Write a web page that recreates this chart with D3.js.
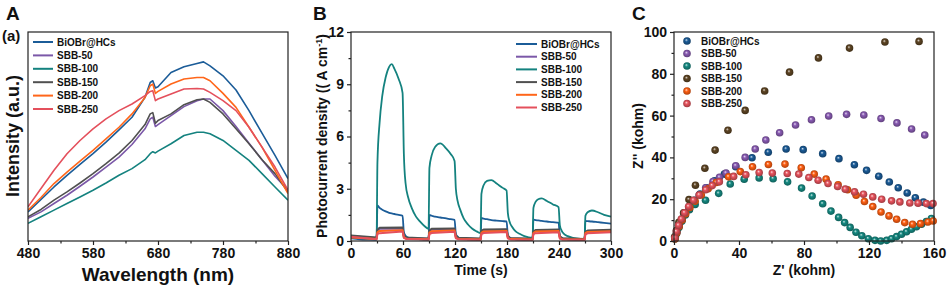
<!DOCTYPE html>
<html><head><meta charset="utf-8">
<script src="https://cdn.jsdelivr.net/npm/d3@7"></script>
<style>
body{margin:0;background:#fff;}
svg text{font-family:"Liberation Sans",Arial,sans-serif;font-weight:bold;fill:#111;}
</style></head><body>
<svg id="chart" width="948" height="285"></svg>
<script>
// ---------- shared ----------
const seriesNames = ["BiOBr@HCs","SBB-50","SBB-100","SBB-150","SBB-200","SBB-250"];
const lineColors = ["#1b5c98","#7b58a8","#14827f","#505050","#ff661a","#e4505c"];
const ballColors = ["#1b5c98","#8a5cb4","#168a82","#5e4524","#ff5f12","#e8545e"];

// ---------- Panel A: PL spectra ----------
const wavelengths = [480,500,520,540,560,580,600,620,640,660,668,672,676,680,700,720,740,750,760,780,800,820,840,860,880];
const plBiOBr  = [29.3,41.7,54.3,66,77,87.7,99.3,111.7,124.3,144.3,159.3,161,153.7,155,169.3,175,178.3,180,176,166,151.7,131,108.3,86,62.7];
const plSBB50  = [22.7,29.3,37.7,46,55,64.3,74.3,84.3,97,112.7,122.7,124.3,115,117,126,135,141,142.7,142.7,131,115,98.3,81.7,65,51];
const plSBB100 = [17.7,24.3,31,37.7,44.3,51,58.3,66,72.7,81.7,87.7,89.7,88.5,90.3,97.7,106,109.3,109.3,107.7,101,91,81,67.7,54.3,41];
const plSBB150 = [24.3,31.7,41,49.3,58.3,67.7,77.7,88.3,101,117,127.7,129,118.3,121,127.7,137,142,142.7,139.3,127.7,112.7,97.7,81.7,67.7,49.3];
const plSBB200 = [31,43.7,57.7,69.3,80.3,91,102.7,114.3,127.7,144.3,156,157.7,148.3,150.3,157.7,162.7,164.3,164.3,161,148.3,134.3,114.3,94.3,71,47.7];
const plSBB250 = [34.3,52.7,71,87.7,101,112.7,122.7,131,137.7,146,150.3,151,141,142.7,147.7,152.7,153.3,152.7,149.3,141,131,114.3,94.3,74.3,51];
const plSeries = [plBiOBr,plSBB50,plSBB100,plSBB150,plSBB200,plSBB250];
const wlMajorTicks = [480,580,680,780,880];
const wlMinorTicks = [530,630,730,830];

// ---------- Panel B: photocurrent ----------
const timesMain = [0,10,20,29.5,30.5,33,36,40,44,47,50,55,59.5,61,63,66,70,75,80,85,89.5,
  90.5,93,97,103,110,115,119.5,121,123,126,130,135,140,145,149.5,
  150.5,153,157,162,168,175,179.5,181,183,186,190,195,200,209.5,
  210.5,213,216,220,226,233,239.5,241,243,246,250,255,260,269.5,
  270.5,273,278,285,292,300];
const pcSBB100 = [0.25,0.18,0.12,0.1,4.5,6.8,8.3,9.4,10.0,10.15,9.9,9.3,8.5,5.0,3.3,2.5,1.9,1.4,1.1,0.85,0.7,
  4.2,4.9,5.4,5.6,5.3,5.0,4.6,3.0,2.3,1.8,1.3,0.95,0.7,0.55,0.45,
  2.7,3.2,3.45,3.5,3.3,3.05,2.9,1.6,1.1,0.8,0.55,0.4,0.28,0.18,
  1.9,2.25,2.4,2.45,2.3,2.1,1.95,0.9,0.6,0.4,0.28,0.2,0.15,0.12,
  1.45,1.65,1.75,1.65,1.5,1.4];
const pcBiOBr = [0.15,0.1,0.08,0.07,2.05,1.9,1.8,1.7,1.62,1.58,1.55,1.5,1.45,0.5,0.3,0.2,0.15,0.12,0.1,0.08,0.07,
  1.5,1.45,1.4,1.35,1.3,1.25,1.22,0.4,0.25,0.15,0.12,0.1,0.08,0.07,0.06,
  1.32,1.28,1.25,1.2,1.17,1.14,1.12,0.35,0.2,0.12,0.1,0.08,0.07,0.06,
  1.22,1.2,1.18,1.15,1.12,1.08,1.05,0.3,0.18,0.12,0.1,0.08,0.07,0.06,
  1.15,1.14,1.12,1.08,1.04,1.0];
const timesLow = [0,29.5,30.5,33,59.5,61,64,89.5,90.5,93,119.5,121,124,149.5,150.5,153,179.5,181,184,209.5,210.5,213,239.5,241,244,269.5,270.5,273,300];
const pcSBB50  = [0.28,0.17,0.6,0.7,0.72,0.26,0.17,0.13,0.56,0.65,0.68,0.25,0.16,0.12,0.55,0.62,0.64,0.23,0.15,0.11,0.52,0.6,0.62,0.22,0.14,0.1,0.5,0.57,0.6];
const pcSBB150 = [0.32,0.2,0.65,0.76,0.78,0.3,0.2,0.15,0.6,0.7,0.72,0.28,0.18,0.14,0.58,0.66,0.68,0.26,0.17,0.13,0.56,0.63,0.66,0.25,0.16,0.12,0.52,0.6,0.64];
const pcSBB200 = [0.2,0.12,0.5,0.58,0.62,0.2,0.13,0.1,0.48,0.56,0.6,0.18,0.12,0.09,0.47,0.55,0.58,0.17,0.11,0.08,0.46,0.54,0.57,0.16,0.1,0.08,0.45,0.52,0.56];
const pcSBB250 = [0.24,0.1,0.4,0.45,0.55,0.18,0.11,0.08,0.4,0.46,0.53,0.16,0.1,0.07,0.4,0.46,0.52,0.15,0.09,0.07,0.4,0.45,0.5,0.14,0.09,0.07,0.38,0.44,0.5];
const tMajorTicks = [0,60,120,180,240,300];
const tMinorTicks = [30,90,150,210,270];
const jMajorTicks = [0,3,6,9,12];
const jMinorTicks = [1.5,4.5,7.5,10.5];

// ---------- Panel C: Nyquist ----------
const eisBiOBr = [[0.8,1.5],[1.8,4.5],[3.2,7.5],[5,10.5],[7,13.5],[9.5,16.5],[12.5,19.5],[16,22.5],[20,25.5],[25,28.8],[31,32],[38,35.5],[48,39.8],[58,42.5],[69,44],[79.5,43.7],[91.5,41.8],[101.5,39.4],[111,36.5],[118.5,33.8],[126,31],[132.5,28.2],[138,25.5],[143.5,23],[148.5,20.7],[153.5,18.6],[158,17]];
const eisSBB50 = [[0.6,1.2],[1.6,4],[3,7],[4.8,10],[6.8,13],[9.2,16],[12,19],[15.5,22],[19.5,25.5],[24,28.5],[28,30.5],[32,32.5],[38,36],[43.8,40],[50,44],[56.5,48.3],[65,51.8],[74.8,55.5],[84.6,58],[95.2,59.8],[106.2,60.6],[116.8,60.3],[127.4,58.6],[137.2,56.5],[146.2,53.6],[154.3,50.7]];
const eisSBB100 = [[0.5,1],[1.5,3.5],[3,6.5],[4.8,9.5],[7,12.5],[9.5,15],[13,17.5],[19.4,19.5],[27.5,22.8],[34.6,27.3],[43.2,29.6],[52.4,30.2],[61,29.8],[69.9,28.3],[78.5,25.3],[85,21.5],[91.5,17.8],[96.6,14.3],[101.3,11.3],[105,8.8],[108.4,6.5],[112,4.2],[115.6,2.5],[119.6,1.1],[123.7,0.3],[127.2,0],[130.9,0.3],[133.9,1.1],[137,2.1],[140,3.2],[143.1,4.4],[146.1,5.6],[149.2,6.8],[152.3,8],[155.3,9.3],[158.4,10.8]];
const eisSBB150 = [[0.4,2],[1.5,5],[3,9],[5.9,13.5],[9.2,19.8],[13.2,26.7],[19,34.8],[25.3,43.5],[33.2,53],[43.8,62.5],[55.8,71.8],[71.1,80.8],[88.9,87.6],[108,92.3],[129.8,95.2],[150.8,95.5]];
const eisSBB200 = [[0.6,1],[1.7,4],[3.2,7],[5,10],[7.2,13],[9.8,16],[13,19],[16.8,22],[21,25],[26,28],[33.6,30.7],[40.8,33.2],[48.3,35.5],[58.1,36.6],[68.3,36.8],[78.3,35],[86.3,32],[93.6,29.6],[101,26.9],[106.8,24.5],[112.1,21.9],[117.2,18.9],[122.3,16.5],[127.4,13.9],[132.3,12],[137,10.4],[142,8.8],[146.8,8],[151.7,8.3],[156.3,9.1],[159.5,9.6]];
const eisSBB250 = [[0.5,1.5],[1.5,4.5],[2.8,7.5],[4.5,10.5],[6.5,13.5],[9,16.5],[12,19.5],[15.5,22],[19.5,24.5],[23.5,26.5],[27.9,28.3],[36.7,30.9],[44.2,31.7],[52.4,32.8],[60.5,32.5],[69.7,32.3],[76.8,32],[83,30.4],[88.7,29.1],[94.8,27.5],[100.7,26.1],[105.4,24.8],[111.1,23.5],[116.6,22.4],[122.3,21.1],[127.8,20],[133.9,19.2],[139,18.7],[145.1,18.2],[150.2,18.1],[155.3,17.9],[159.4,17.9]];
const eisSeries = [eisBiOBr,eisSBB50,eisSBB100,eisSBB150,eisSBB200,eisSBB250];
const zxMajorTicks = [0,40,80,120,160];
const zxMinorTicks = [20,60,100,140];
const zyMajorTicks = [0,20,40,60,80,100];
const zyMinorTicks = [10,30,50,70,90];

// ---------- drawing ----------
const svg = d3.select("#chart");
const defs = svg.append("defs");
const TOP = 32, BOT = 241;

function frame(g, x0, x1) {
  g.append("rect").attr("x", x0).attr("y", TOP).attr("width", x1 - x0).attr("height", BOT - TOP)
    .attr("fill", "none").attr("stroke", "#222").attr("stroke-width", 1.2);
}
function clip(id, x0, x1) {
  defs.append("clipPath").attr("id", id).append("rect")
    .attr("x", x0).attr("y", TOP).attr("width", x1 - x0).attr("height", BOT - TOP);
}
function xAxis(g, x, major, minor, fmt) {
  const a = g.append("g").attr("transform", `translate(0,${BOT})`)
    .call(d3.axisBottom(x).tickValues(major).tickSize(4).tickPadding(3).tickFormat(fmt));
  a.select(".domain").remove();
  a.selectAll("text").attr("font-size", 14).style("fill", "#111");
  a.selectAll("line").attr("stroke", "#222").attr("stroke-width", 1.2);
  const m = g.append("g").attr("transform", `translate(0,${BOT})`)
    .call(d3.axisBottom(x).tickValues(minor).tickSize(2.5).tickFormat(""));
  m.select(".domain").remove();
  m.selectAll("line").attr("stroke", "#222").attr("stroke-width", 1.2);
}
function yAxis(g, y, x0, major, minor, fmt) {
  const a = g.append("g").attr("transform", `translate(${x0},0)`)
    .call(d3.axisLeft(y).tickValues(major).tickSize(4).tickPadding(3).tickFormat(fmt));
  a.select(".domain").remove();
  a.selectAll("text").attr("font-size", 14).style("fill", "#111");
  a.selectAll("line").attr("stroke", "#222").attr("stroke-width", 1.2);
  const m = g.append("g").attr("transform", `translate(${x0},0)`)
    .call(d3.axisLeft(y).tickValues(minor).tickSize(2.5).tickFormat(""));
  m.select(".domain").remove();
  m.selectAll("line").attr("stroke", "#222").attr("stroke-width", 1.2);
}

// Panel A
{
  const x0 = 28, x1 = 288;
  const g = svg.append("g");
  const x = d3.scaleLinear().domain([480, 880]).range([x0, x1]);
  const y = d3.scaleLinear().domain([0, 210]).range([BOT, TOP]);
  clip("clipA", x0, x1);
  const line = d3.line().x((d, i) => x(wavelengths[i])).y(d => y(d));
  const lg = g.append("g").attr("clip-path", "url(#clipA)");
  plSeries.forEach((s, i) => {
    lg.append("path").attr("d", line(s)).attr("fill", "none")
      .attr("stroke", lineColors[i]).attr("stroke-width", 1.6).attr("stroke-linejoin", "round");
  });
  frame(g, x0, x1);
  xAxis(g, x, wlMajorTicks, wlMinorTicks, d3.format("d"));
  // legend
  seriesNames.forEach((n, i) => {
    const yy = 42 + i * 13.4;
    g.append("line").attr("x1", 33).attr("x2", 53).attr("y1", yy).attr("y2", yy)
      .attr("stroke", lineColors[i]).attr("stroke-width", 2);
    g.append("text").attr("x", 57).attr("y", yy).attr("dy", "0.35em").attr("font-size", 10).text(n);
  });
  g.append("text").attr("x", 158).attr("y", 281).attr("text-anchor", "middle").attr("font-size", 19).text("Wavelength (nm)");
  g.append("text").attr("transform", "translate(13,136) rotate(-90)").attr("text-anchor", "middle")
    .attr("dy", "0.35em").attr("font-size", 18).text("Intensity (a.u.)");
  g.append("text").attr("x", 6).attr("y", 20).attr("font-size", 19).text("A");
  g.append("text").attr("x", 2).attr("y", 41).attr("font-size", 15).text("(a)");
}

// Panel B
{
  const x0 = 351, x1 = 611;
  const g = svg.append("g");
  const x = d3.scaleLinear().domain([0, 300]).range([x0, x1]);
  const y = d3.scaleLinear().domain([0, 12]).range([BOT, TOP]);
  clip("clipB", x0, x1);
  const lg = g.append("g").attr("clip-path", "url(#clipB)");
  const mainLine = d3.line().x((d, i) => x(timesMain[i])).y(d => y(d)).curve(d3.curveMonotoneX);
  const lowLine = d3.line().x((d, i) => x(timesLow[i])).y(d => y(d));
  const draw = (d, c, w) => lg.append("path").attr("d", d).attr("fill", "none")
      .attr("stroke", c).attr("stroke-width", w).attr("stroke-linejoin", "round");
  draw(mainLine(pcBiOBr), lineColors[0], 1.8);
  draw(lowLine(pcSBB50), lineColors[1], 2);
  draw(mainLine(pcSBB100), lineColors[2], 1.8);
  draw(lowLine(pcSBB150), lineColors[3], 2);
  draw(lowLine(pcSBB200), lineColors[4], 2);
  draw(lowLine(pcSBB250), lineColors[5], 2);
  frame(g, x0, x1);
  xAxis(g, x, tMajorTicks, tMinorTicks, d3.format("d"));
  yAxis(g, y, x0, jMajorTicks, jMinorTicks, d3.format("d"));
  seriesNames.forEach((n, i) => {
    const yy = 44 + i * 12.7;
    g.append("line").attr("x1", 516).attr("x2", 537).attr("y1", yy).attr("y2", yy)
      .attr("stroke", lineColors[i]).attr("stroke-width", 2);
    g.append("text").attr("x", 541).attr("y", yy).attr("dy", "0.35em").attr("font-size", 10).text(n);
  });
  g.append("text").attr("x", 481).attr("y", 275).attr("text-anchor", "middle").attr("font-size", 14).text("Time (s)");
  const yt = g.append("text").attr("transform", "translate(322,136) rotate(-90)").attr("text-anchor", "middle")
    .attr("dy", "0.35em").attr("font-size", 14);
  yt.append("tspan").text("Photocurrent density (( A cm");
  yt.append("tspan").attr("font-size", 9).attr("dy", "-0.5em").text("-1");
  yt.append("tspan").attr("dy", "0.35em").text(")");
  g.append("text").attr("x", 313).attr("y", 20).attr("font-size", 19).text("B");
}

// Panel C
{
  const x0 = 674, x1 = 934;
  const g = svg.append("g");
  const x = d3.scaleLinear().domain([0, 160]).range([x0, x1]);
  const y = d3.scaleLinear().domain([0, 100]).range([BOT, TOP]);
  ballColors.forEach((c, i) => {
    const gr = defs.append("radialGradient").attr("id", "ball" + i)
      .attr("cx", "50%").attr("cy", "50%").attr("r", "55%").attr("fx", "40%").attr("fy", "35%");
    gr.append("stop").attr("offset", "0%").attr("stop-color", d3.interpolateRgb(c, "#fff")(0.8));
    gr.append("stop").attr("offset", "35%").attr("stop-color", c);
    gr.append("stop").attr("offset", "100%").attr("stop-color", d3.color(c).darker(1.2));
  });
  eisSeries.forEach((s, i) => {
    g.append("g").selectAll("circle").data(s).join("circle")
      .attr("cx", d => x(d[0])).attr("cy", d => y(d[1])).attr("r", 3.8)
      .attr("fill", `url(#ball${i})`);
  });
  frame(g, x0, x1);
  xAxis(g, x, zxMajorTicks, zxMinorTicks, d3.format("d"));
  yAxis(g, y, x0, zyMajorTicks, zyMinorTicks, d3.format("d"));
  seriesNames.forEach((n, i) => {
    const yy = 41 + i * 12.5;
    g.append("circle").attr("cx", 687).attr("cy", yy).attr("r", 3.8).attr("fill", `url(#ball${i})`);
    g.append("text").attr("x", 701).attr("y", yy).attr("dy", "0.35em").attr("font-size", 10).text(n);
  });
  g.append("text").attr("x", 804).attr("y", 275).attr("text-anchor", "middle").attr("font-size", 14).text("Z' (kohm)");
  g.append("text").attr("transform", "translate(638,136) rotate(-90)").attr("text-anchor", "middle")
    .attr("dy", "0.35em").attr("font-size", 14).text("Z'' (kohm)");
  g.append("text").attr("x", 632).attr("y", 20).attr("font-size", 19).text("C");
}
</script>
</body></html>
